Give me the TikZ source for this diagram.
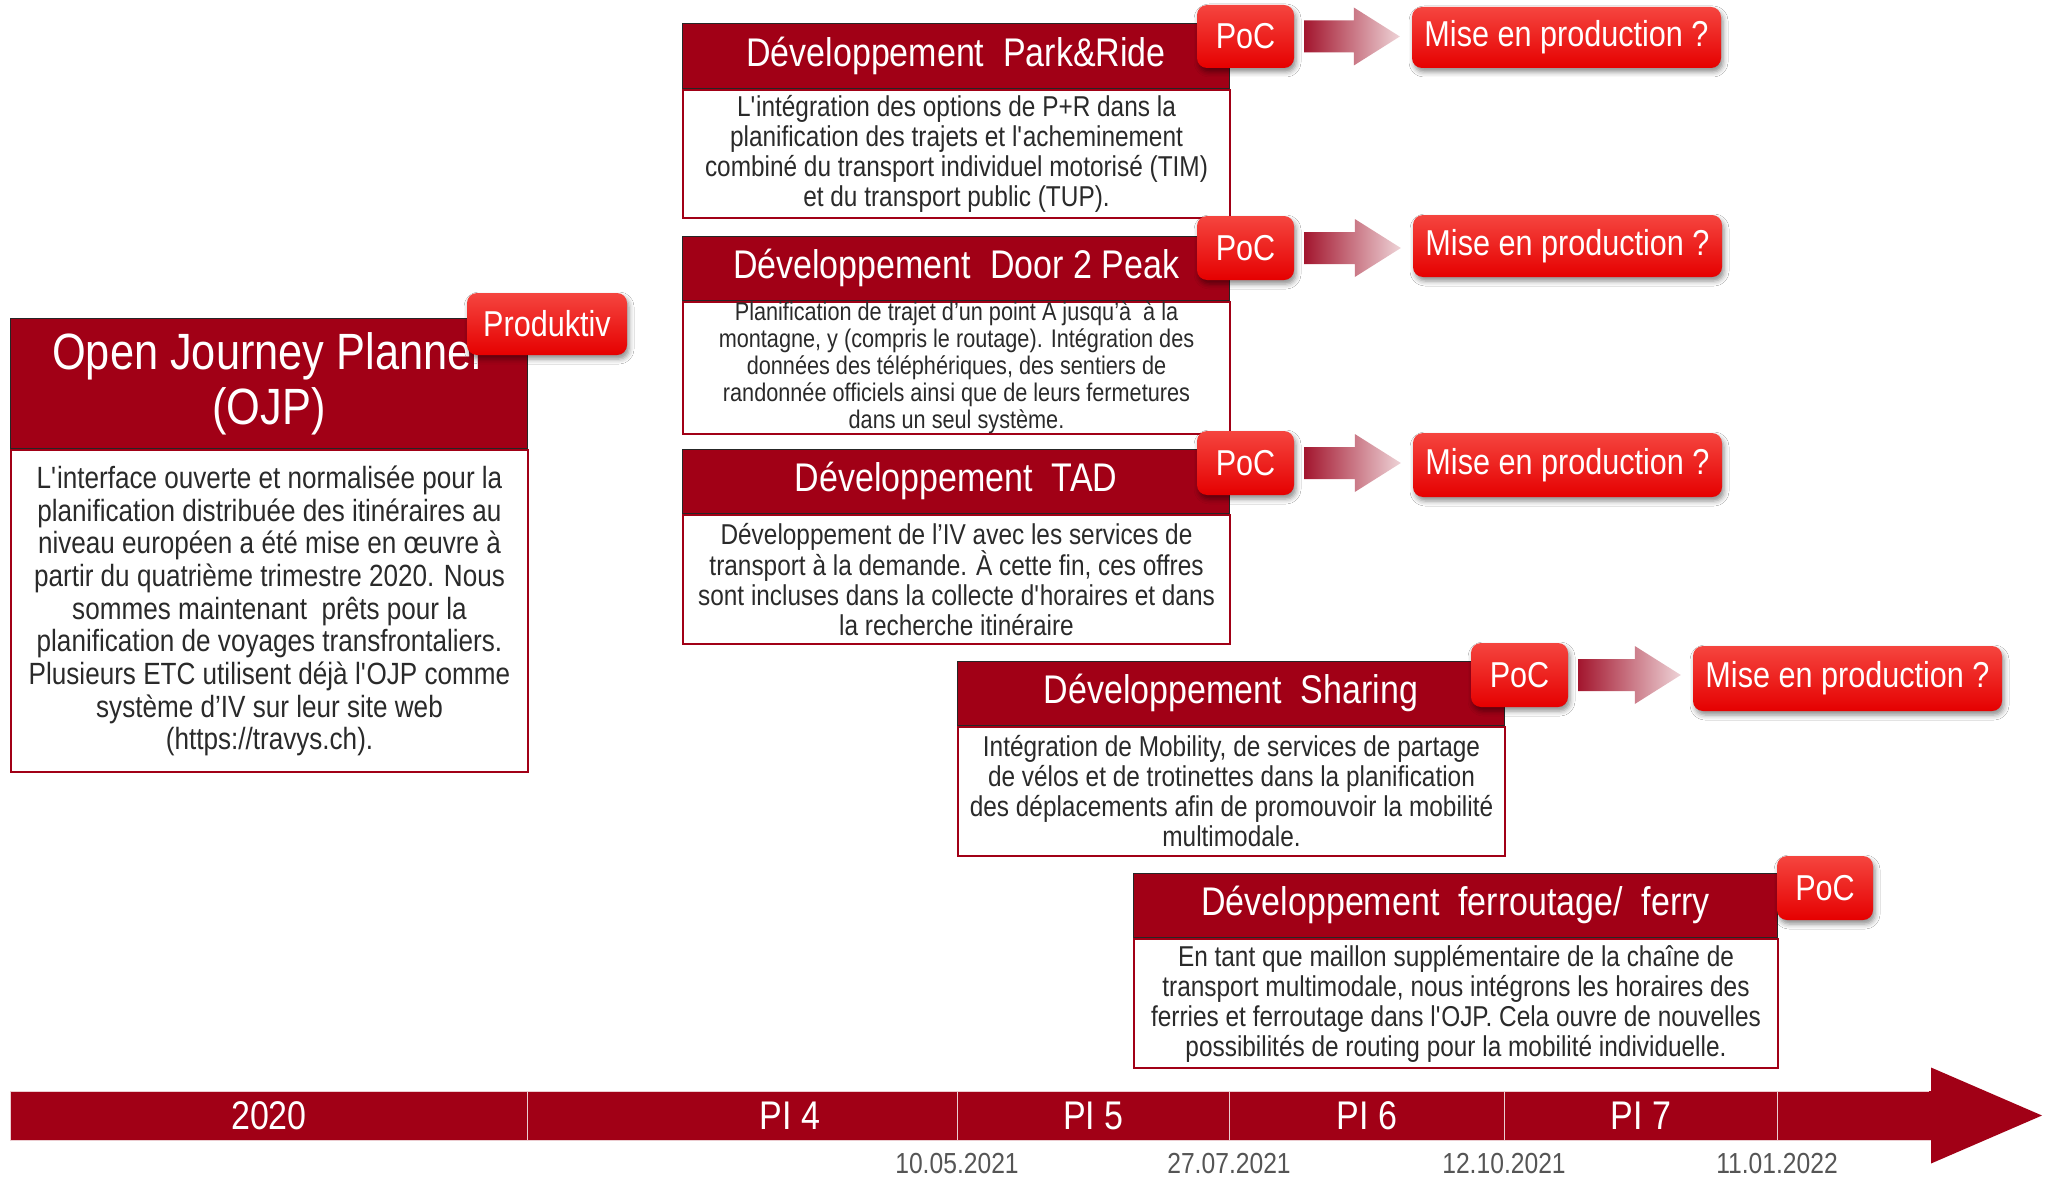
\documentclass[tikz,border=0pt]{standalone}
\usepackage{fontspec}
\setmainfont{Liberation Sans}[FakeStretch=0.85]
\usetikzlibrary{calc,shadows.blur}

\definecolor{hdred}{HTML}{A10016}
\definecolor{badgetop}{HTML}{F5453F}
\definecolor{badgebot}{HTML}{E50000}
\definecolor{arrowdark}{HTML}{A3162E}
\definecolor{arrowmid}{HTML}{DDA9B1}
\definecolor{arrowlight}{HTML}{EED3D7}
\definecolor{bodytext}{HTML}{2A2A2A}
\definecolor{datetext}{HTML}{555555}

\newcommand\fs[2]{\fontsize{#1}{#2}\selectfont}
\newcommand\sq{\textquotesingle}

% shaded block arrow between a PoC badge and the next badge
\newcommand\blockarrow[2]{%
  \path[left color=arrowdark, middle color=arrowmid, right color=arrowlight]
    let \p1=($(#1.east)+(10,0)$), \p2=($(#2.west)+(-12,0)$) in
    (\x1,\y1+16) -- (\x2-46,\y1+16) -- (\x2-46,\y1+29) -- (\x2,\y1)
    -- (\x2-46,\y1-29) -- (\x2-46,\y1-16) -- (\x1,\y1-16) -- cycle;}

\tikzset{
  hdr/.style={draw=black!85, line width=1.2pt, fill=hdred, text=white,
    inner sep=0pt, anchor=south west, align=center, font=\fs{40}{44}},
  bodybox/.style={draw=hdred, line width=2pt, fill=white, text=bodytext,
    inner sep=0pt, anchor=north west, align=center, font=\fs{28.7}{30}},
  badge/.style={rounded corners=10pt, top color=badgetop, bottom color=badgebot,
    text=white, inner sep=0pt, font=\fs{36}{40},
    blur shadow={shadow xshift=2pt, shadow yshift=-4pt,
      shadow blur radius=5pt, shadow opacity=45}},
  seg/.style={fill=hdred, draw=white!80!hdred, line width=1pt, inner sep=0pt,
    minimum height=49, anchor=west, text=white, font=\fs{40}{44}},
  tlabel/.style={text=white, inner sep=0pt, font=\fs{40}{44}},
  datelabel/.style={text=datetext, inner sep=0pt, font=\fs{29}{32}}
}

\begin{document}
\begin{tikzpicture}[x=1pt, y=-1pt]
\useasboundingbox[fill=white] (0,0) rectangle (2052,1177);

% ---- Open Journey Planner ----
\node[bodybox, minimum width=517, minimum height=322, font=\fs{30.7}{32.7}]
  (ojpB) at (10,449) {L\sq interface ouverte et normalisée pour la\\
  planification distribuée des itinéraires au\\
  niveau européen a été mise en œuvre à\\
  partir du quatrième trimestre 2020. Nous\\
  sommes maintenant\ \ prêts pour la\\
  planification de voyages transfrontaliers.\\
  Plusieurs ETC utilisent déjà l\sq OJP comme\\
  système d’IV sur leur site web\\
  (https://travys.ch).};
\node[hdr, minimum width=517, minimum height=130, font=\fs{51}{55}]
  (ojpH) at (ojpB.north west) {Open Journey Planner\\(OJP)};
\node[badge, minimum width=160, minimum height=62] (prod) at (547,324) {Produktiv};

% ---- Park&Ride ----
\node[bodybox, minimum width=547, minimum height=128] (prB) at (682,89)
  {L\sq intégration des options de P+R dans la\\
  planification des trajets et l\sq acheminement\\
  combiné du transport individuel motorisé (TIM)\\
  et du transport public (TUP).};
\node[hdr, minimum width=547, minimum height=65] (prH) at (prB.north west)
  {Développement\ \ Park\&Ride};
\node[badge, minimum width=97, minimum height=63] (poc1) at (1245.5,36.5) {PoC};
\node[badge, minimum width=309, minimum height=61] (mep1) at (1566.5,37.5) {Mise en production ?};
\blockarrow{poc1}{mep1}

% ---- Door 2 Peak ----
\node[bodybox, minimum width=547, minimum height=128, font=\fs{25.5}{27}] (dpB) at (682,301)
  {Planification de trajet d’un point A jusqu’à\ \ à la\\
  montagne, y (compris le routage). Intégration des\\
  données des téléphériques, des sentiers de\\
  randonnée officiels ainsi que de leurs fermetures\\
  dans un seul système.};
\node[hdr, minimum width=547, minimum height=64] (dpH) at (dpB.north west)
  {Développement\ \ Door 2 Peak};
\node[badge, minimum width=97, minimum height=64] (poc2) at (1245.5,248) {PoC};
\node[badge, minimum width=309, minimum height=62] (mep2) at (1567.5,246) {Mise en production ?};
\blockarrow{poc2}{mep2}

% ---- TAD ----
\node[bodybox, minimum width=547, minimum height=129] (tadB) at (682,514)
  {Développement de l’IV avec les services de\\
  transport à la demande. À cette fin, ces offres\\
  sont incluses dans la collecte d\sq horaires et dans\\
  la recherche itinéraire};
\node[hdr, minimum width=547, minimum height=64] (tadH) at (tadB.north west)
  {Développement\ \ TAD};
\node[badge, minimum width=97, minimum height=64] (poc3) at (1245.5,463) {PoC};
\node[badge, minimum width=309, minimum height=64] (mep3) at (1567.5,465) {Mise en production ?};
\blockarrow{poc3}{mep3}

% ---- Sharing ----
\node[bodybox, minimum width=547, minimum height=129] (shB) at (957,726)
  {Intégration de Mobility, de services de partage\\
  de vélos et de trotinettes dans la planification\\
  des déplacements afin de promouvoir la mobilité\\
  multimodale.};
\node[hdr, minimum width=547, minimum height=64] (shH) at (shB.north west)
  {Développement\ \ Sharing};
\node[badge, minimum width=97, minimum height=64] (poc4) at (1519.5,675) {PoC};
\node[badge, minimum width=309, minimum height=65] (mep4) at (1847.5,678.5) {Mise en production ?};
\blockarrow{poc4}{mep4}

% ---- ferroutage / ferry ----
\node[bodybox, minimum width=644, minimum height=129] (feB) at (1133,938)
  {En tant que maillon supplémentaire de la chaîne de\\
  transport multimodale, nous intégrons les horaires des\\
  ferries et ferroutage dans l\sq OJP. Cela ouvre de nouvelles\\
  possibilités de routing pour la mobilité individuelle.};
\node[hdr, minimum width=644, minimum height=64] (feH) at (feB.north west)
  {Développement\ \ ferroutage/\ \ ferry};
\node[badge, minimum width=96, minimum height=64] (poc5) at (1825,888) {PoC};

% ---- timeline ----
\node[seg, minimum width=153] (tEnd) at (1777,1115.5) {};
\path[fill=hdred] (tEnd.north east) -- ++(0,-23) -- (2042,1115.5)
  -- ($(tEnd.south east)+(0,23)$) -- (tEnd.south east) -- cycle;
\path[fill=hdred] ($(tEnd.north east)+(-2,0.5)$) rectangle ($(tEnd.south east)+(1,-0.5)$);
\node[seg, minimum width=517] (t2020) at (10,1115.5) {2020};
\node[seg, minimum width=430] (tP4) at (527,1115.5) {};
\node[tlabel] (lP4) at (790,1115.5) {PI 4};
\node[seg, minimum width=272] (tP5) at (957,1115.5) {PI 5};
\node[seg, minimum width=275] (tP6) at (1229,1115.5) {PI 6};
\node[seg, minimum width=273] (tP7) at (1504,1115.5) {PI 7};

\node[datelabel] (d1) at (957,1164) {10.05.2021};
\node[datelabel] (d2) at (1229,1164) {27.07.2021};
\node[datelabel] (d3) at (1504,1164) {12.10.2021};
\node[datelabel] (d4) at (1777,1164) {11.01.2022};
\end{tikzpicture}
\end{document}
